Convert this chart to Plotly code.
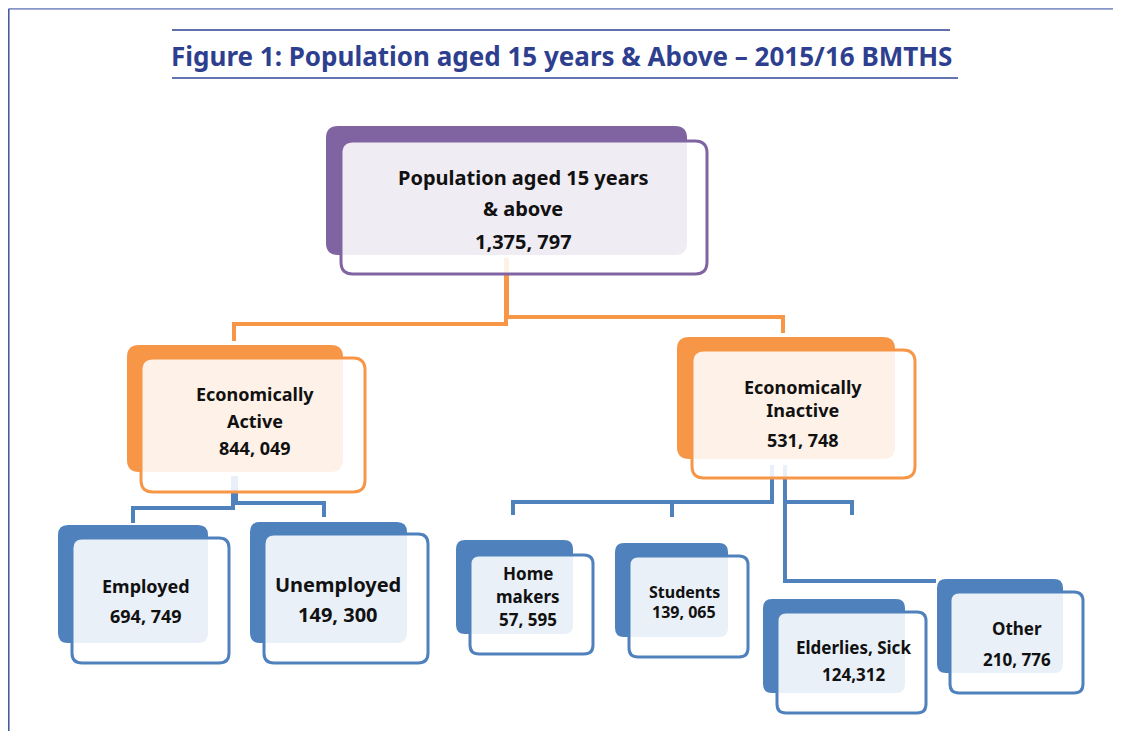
import plotly.graph_objects as go

W, H = 1121, 731
PAGE_OFF = 8  # browser body margin; shift axes so data units equal page pixels

# ---------------- data ----------------
title_text = "Figure 1: Population aged 15 years & Above – 2015/16 BMTHS"
node_name_lines = [
    ["Population aged 15 years", "& above"],
    ["Economically", "Active"],
    ["Economically<br>Inactive"],
    ["Employed"],
    ["Unemployed"],
    ["Home", "makers"],
    ["Students"],
    ["Elderlies, Sick"],
    ["Other"],
]
node_values = ["1,375, 797", "844, 049", "531, 748", "694, 749", "149, 300",
               "57, 595", "139, 065", "124,312", "210, 776"]
node_level = [0, 1, 1, 2, 2, 2, 2, 2, 2]

# ---------------- layout (pixel positions) ----------------
back_boxes = [(326, 126, 687, 255), (127, 345, 343, 472), (677, 337, 895, 459),
              (58, 525, 208, 643), (250, 522, 407, 643), (456, 540, 573, 634),
              (615, 543, 728, 637), (763, 599, 905, 693), (937, 579, 1063, 673)]
front_boxes = [(341, 141, 707, 274), (141, 358, 365, 492), (692, 350, 915, 478),
               (72, 538, 229, 663), (264, 534, 428, 663), (470, 555, 593, 654),
               (629, 556, 748, 657), (777, 612, 926, 713), (950, 592, 1083, 693)]
text_x = [523, 255, 803, 146, 338, 528, 684, 853, 1017]
text_y = [[176, 207, 240], [393, 420, 447], [397, 439], [585, 615], [583, 613],
          [572, 595, 618], [591, 611], [646, 673], [627, 658]]
text_size = [20, 18, 18, 18, 20, 17, 16, 17, 17]
box_radius = [12, 12, 12, 10, 10, 9, 9, 9, 9]

level_color = {0: "#8064A2", 1: "#F79646", 2: "#4F81BD"}

orange_paths = [
    [(506, 258), (506, 324), (234, 324), (234, 341)],
    [(507, 258), (507, 317), (783, 317), (783, 333)],
]
blue_paths = [
    [(233, 476), (233, 508), (133, 508), (133, 523)],
    [(236, 476), (236, 503), (324, 503), (324, 517)],
    [(772, 465), (772, 502), (513, 502), (513, 515)],
    [(672, 502), (672, 517)],
    [(785, 465), (785, 581), (936, 581)],
    [(785, 502), (852, 502), (852, 515)],
]

FONT = "Noto Sans, DejaVu Sans, sans-serif"


def rounded_path(x0, y0, x1, y1, r):
    return (f"M {x0 + r},{y0} L {x1 - r},{y0} Q {x1},{y0} {x1},{y0 + r} "
            f"L {x1},{y1 - r} Q {x1},{y1} {x1 - r},{y1} L {x0 + r},{y1} "
            f"Q {x0},{y1} {x0},{y1 - r} L {x0},{y0 + r} Q {x0},{y0} {x0 + r},{y0} Z")


fig = go.Figure()

# connectors (drawn under boxes)
for paths, col in ((orange_paths, "#F79646"), (blue_paths, "#4F81BD")):
    for p in paths:
        fig.add_trace(go.Scatter(
            x=[pt[0] for pt in p], y=[pt[1] for pt in p], mode="lines",
            line=dict(color=col, width=4), hoverinfo="skip", showlegend=False))

shapes = []
# page border (kept just inside the visible figure area)
shapes.append(dict(type="line", x0=8.8, y0=8.8, x1=W + 10, y1=8.8, line=dict(color="#8796c6", width=2)))
shapes.append(dict(type="line", x0=8.8, y0=8.8, x1=8.8, y1=H + 10, line=dict(color="#3f51a0", width=1.5)))
# title rules
shapes.append(dict(type="line", x0=172, y0=30, x1=950, y1=30, line=dict(color="#2e3f8f", width=1.5)))
shapes.append(dict(type="line", x0=172, y0=78, x1=958, y1=78, line=dict(color="#6474b3", width=2)))

for i, lvl in enumerate(node_level):
    col = level_color[lvl]
    r = box_radius[i]
    shapes.append(dict(type="path", path=rounded_path(*back_boxes[i], r),
                       fillcolor=col, line=dict(width=0), layer="above"))
    shapes.append(dict(type="path", path=rounded_path(*front_boxes[i], r),
                       fillcolor="rgba(255,255,255,0.88)",
                       line=dict(color=col, width=3), layer="above"))

annotations = [dict(x=561, y=56, xref="x", yref="y", text=f"<b>{title_text}</b>",
                    showarrow=False, font=dict(family=FONT, size=26, color="#2e3f8f"),
                    xanchor="center", yanchor="middle")]
for i in range(len(node_values)):
    lines = node_name_lines[i] + [node_values[i]]
    for ln, yy in zip(lines, text_y[i]):
        annotations.append(dict(x=text_x[i], y=yy + 1, xref="x", yref="y",
                                text=f"<b>{ln}</b>", showarrow=False,
                                font=dict(family=FONT, size=text_size[i], color="#111111"),
                                xanchor="center", yanchor="middle"))

fig.update_layout(
    width=W, height=H, margin=dict(l=0, r=0, t=0, b=0),
    paper_bgcolor="white", plot_bgcolor="white",
    xaxis=dict(range=[PAGE_OFF, W + PAGE_OFF], visible=False, fixedrange=True),
    yaxis=dict(range=[H + PAGE_OFF, PAGE_OFF], visible=False, fixedrange=True),
    shapes=shapes, annotations=annotations, showlegend=False,
)

fig.write_html("out.html")
